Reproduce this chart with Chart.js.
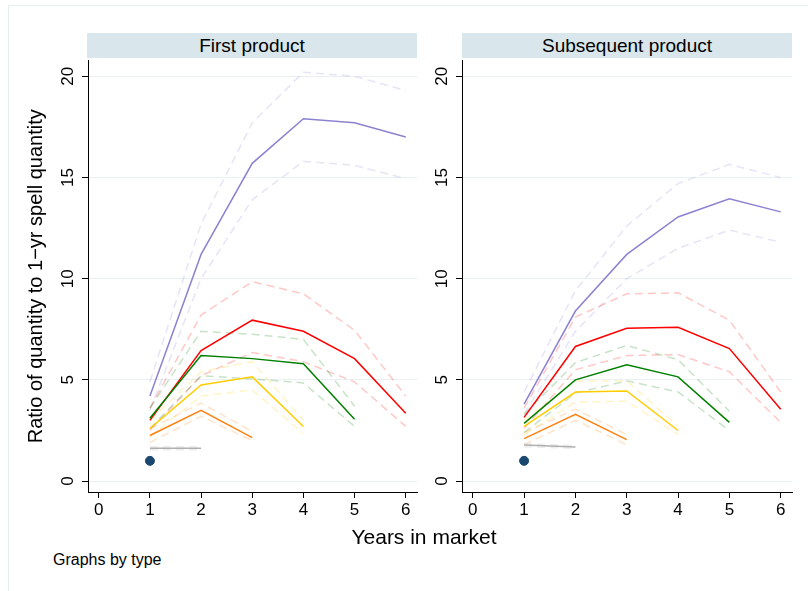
<!DOCTYPE html>
<html>
<head>
<meta charset="utf-8">
<script src="https://cdn.jsdelivr.net/npm/chart.js@4.4.1/dist/chart.umd.min.js"></script>
<style>
  html, body { margin: 0; padding: 0; background: #fff; }
  body { width: 808px; height: 591px; position: relative; overflow: hidden;
         font-family: "Liberation Sans", Arial, sans-serif; color: #000; }
  .frame { position: absolute; left: 8px; top: 5px; right: -2px; bottom: -2px;
           border-top: 1px solid #e6edf0; border-left: 1px solid #e6edf0; }
  .strip { position: absolute; top: 33px; height: 25px; background: #d9e6eb;
           font-size: 19px; line-height: 25px; text-align: center; }
  .wrap { position: absolute; top: 55px; height: 477px; }
  .xtitle { position: absolute; left: 88px; width: 672px; top: 525px;
            text-align: center; font-size: 21px; }
  .note { position: absolute; left: 53px; top: 551px; font-size: 16px; }
</style>
</head>
<body>
<div class="frame"></div>
<div class="strip" style="left:87px;width:330px">First product</div>
<div class="strip" style="left:462px;width:330px">Subsequent product</div>
<div class="wrap" style="left:0;width:423px"><canvas id="left"></canvas></div>
<div class="wrap" style="left:425px;width:373px"><canvas id="right"></canvas></div>
<div class="xtitle">Years in market</div>
<div class="note">Graphs by type</div>
<script>
// ── Data ──────────────────────────────────────────────────────
const years  = [1, 2, 3, 4, 5, 6];
const xTicks = [0, 1, 2, 3, 4, 5, 6];
const yTicks = [0, 5, 10, 15, 20];

// First product
const firstPurple   = [4.2, 11.2, 15.7, 17.9, 17.7, 17.0];
const firstPurpleHi = [4.9, 12.7, 17.7, 20.2, 20.0, 19.3];
const firstPurpleLo = [3.5, 10.0, 13.9, 15.8, 15.6, 14.95];
const firstRed      = [3.0, 6.45, 7.95, 7.4, 6.05, 3.35];
const firstRedHi    = [3.6, 8.2, 9.85, 9.25, 7.45, 4.2];
const firstRedLo    = [2.5, 5.2, 6.35, 5.9, 4.9, 2.7];
const firstGreen    = [3.1, 6.2, 6.05, 5.8, 3.05];
const firstGreenHi  = [3.6, 7.4, 7.25, 7.0, 3.7];
const firstGreenLo  = [2.6, 5.2, 5.05, 4.85, 2.7];
const firstYellow   = [2.6, 4.75, 5.15, 2.7];
const firstYellowHi = [3.0, 5.4, 5.9, 3.0];
const firstYellowLo = [2.2, 4.2, 4.5, 2.35];
const firstOrange   = [2.25, 3.5, 2.15];
const firstOrangeHi = [2.6, 3.85, 2.45];
const firstOrangeLo = [1.9, 3.2, 2.0];
const firstGray     = [1.62, 1.62];
const firstGrayHi   = [1.7, 1.7];
const firstGrayLo   = [1.55, 1.55];
const firstDot      = [1];

// Subsequent product
const subPurple   = [3.8, 8.4, 11.2, 13.05, 13.95, 13.3];
const subPurpleHi = [4.4, 9.4, 12.6, 14.7, 15.65, 15.0];
const subPurpleLo = [3.3, 7.4, 10.0, 11.5, 12.4, 11.8];
const subRed      = [3.15, 6.65, 7.55, 7.6, 6.55, 3.55];
const subRedHi    = [3.6, 8.1, 9.25, 9.3, 7.95, 4.4];
const subRedLo    = [2.6, 5.5, 6.2, 6.25, 5.4, 2.9];
const subGreen    = [2.85, 5.0, 5.75, 5.15, 2.9];
const subGreenHi  = [3.3, 5.85, 6.7, 6.0, 3.45];
const subGreenLo  = [2.4, 4.35, 4.95, 4.4, 2.5];
const subYellow   = [2.7, 4.4, 4.45, 2.5];
const subYellowHi = [3.0, 4.95, 4.95, 2.7];
const subYellowLo = [2.3, 3.9, 3.95, 2.3];
const subOrange   = [2.1, 3.3, 2.05];
const subOrangeHi = [2.4, 3.55, 2.3];
const subOrangeLo = [1.8, 3.0, 1.8];
const subGray     = [1.78, 1.68];
const subGrayHi   = [1.85, 1.75];
const subGrayLo   = [1.7, 1.62];
const subDot      = [1];

// ── Helpers ───────────────────────────────────────────────────
const COLORS = {
  purple: [140, 130, 210],
  red:    [255, 0, 0],
  green:  [0, 128, 0],
  yellow: [255, 204, 0],
  orange: [255, 128, 14],
  gray:   [175, 175, 175],
};
const rgba = (c, a) => `rgba(${c[0]},${c[1]},${c[2]},${a})`;
const pts  = (vals) => vals.map((v, i) => ({ x: years[i], y: v }));

function band(color, mid, hi, lo) {
  const c = COLORS[color];
  const dashed = (vals) => ({
    data: pts(vals), borderColor: rgba(c, 0.22), borderWidth: 1.5,
    borderDash: [8, 5], pointRadius: 0, order: 2,
  });
  return [
    dashed(hi), dashed(lo),
    { data: pts(mid), borderColor: rgba(c, 1), borderWidth: 1.5, pointRadius: 0, order: 1 },
  ];
}

function panel(id, sets, yAxisWidth, showTitle) {
  const [p, r, g, y, o, gr, dot] = sets;
  const datasets = [
    ...band('gray', ...gr), ...band('orange', ...o), ...band('yellow', ...y),
    ...band('green', ...g), ...band('red', ...r), ...band('purple', ...p),
    { data: pts(dot), showLine: false, pointRadius: 4.5, pointBackgroundColor: '#1a476f',
      pointBorderColor: '#1a476f', order: 0 },
  ];
  return new Chart(document.getElementById(id), {
    type: 'line',
    data: { datasets },
    options: {
      responsive: true, maintainAspectRatio: false, animation: false,
      layout: { padding: 0 },
      plugins: { legend: { display: false }, tooltip: { enabled: false } },
      scales: {
        x: {
          type: 'linear', min: -0.21, max: 6.23,
          afterBuildTicks: (s) => { s.ticks = xTicks.map(v => ({ value: v })); },
          afterFit: (s) => { s.height = 40; s.paddingLeft = 0; s.paddingRight = 0; },
          grid: { drawOnChartArea: false, tickLength: 6, tickColor: '#000' },
          border: { color: '#000', width: 1 },
          ticks: { color: '#000', padding: 2, font: { size: 17, family: 'Liberation Sans' },
                   maxRotation: 0 },
        },
        y: {
          type: 'linear', min: -0.54, max: 20.78,
          afterBuildTicks: (s) => { s.ticks = yTicks.map(v => ({ value: v })); },
          afterFit: (s) => { s.width = yAxisWidth; s.paddingTop = 0; s.paddingBottom = 0; },
          grid: { color: '#e8f0f2', lineWidth: 1, tickLength: 6, tickColor: '#000' },
          border: { color: '#000', width: 1 },
          ticks: { color: '#000', padding: 4, minRotation: 90, maxRotation: 90,
                   crossAlign: 'center', font: { size: 17, family: 'Liberation Sans' } },
          title: { display: showTitle, text: 'Ratio of quantity to 1\u2212yr spell quantity',
                   color: '#000', font: { size: 20, family: 'Liberation Sans' },
                   padding: { top: 24, bottom: 0 } },
        },
      },
    },
  });
}

panel('left', [
  [firstPurple, firstPurpleHi, firstPurpleLo],
  [firstRed, firstRedHi, firstRedLo],
  [firstGreen, firstGreenHi, firstGreenLo],
  [firstYellow, firstYellowHi, firstYellowLo],
  [firstOrange, firstOrangeHi, firstOrangeLo],
  [firstGray, firstGrayHi, firstGrayLo],
  firstDot,
], 88, true);

panel('right', [
  [subPurple, subPurpleHi, subPurpleLo],
  [subRed, subRedHi, subRedLo],
  [subGreen, subGreenHi, subGreenLo],
  [subYellow, subYellowHi, subYellowLo],
  [subOrange, subOrangeHi, subOrangeLo],
  [subGray, subGrayHi, subGrayLo],
  subDot,
], 37, false);
</script>
</body>
</html>
